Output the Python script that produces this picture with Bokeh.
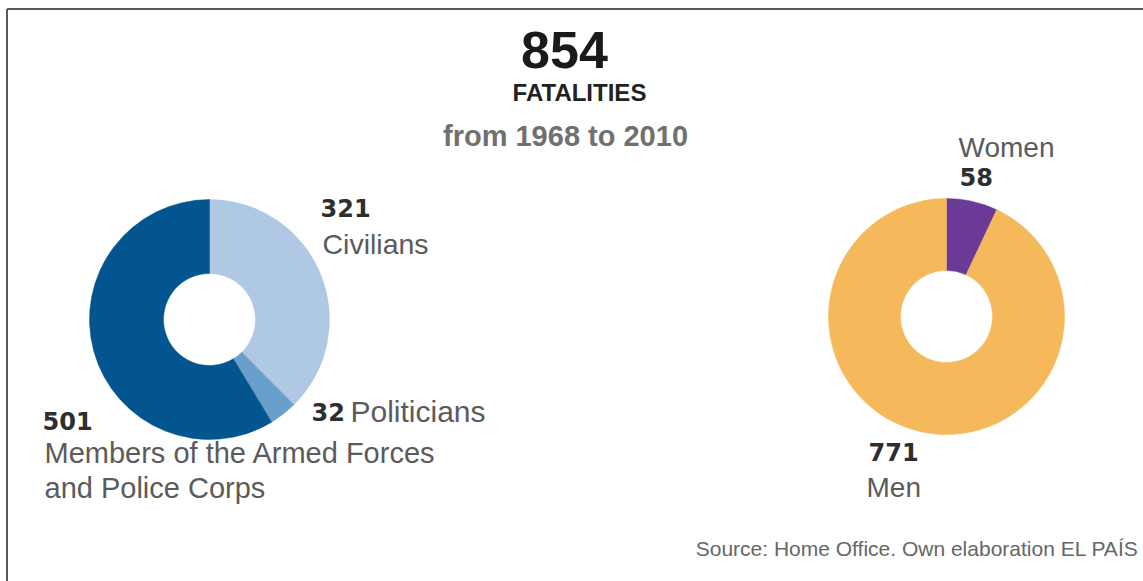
import math
from bokeh.plotting import figure
from bokeh.models import Range1d, ColumnDataSource
from bokeh.embed import file_html
from bokeh.resources import INLINE
from bokeh.core.properties import value

# ---------------- data ----------------
total_fatalities = 854
title_text = "FATALITIES"
period_text = "from 1968 to 2010"
group_labels = ["Civilians", "Politicians", "Members of the Armed Forces\nand Police Corps"]
group_values = [321, 32, 501]
group_colors = ["#afc8e3", "#6a9ecb", "#03558f"]
sex_labels = ["Women", "Men"]
sex_values = [58, 771]
sex_colors = ["#6b3a96", "#f5b85a"]
source_text = "Source: Home Office. Own elaboration EL PAÍS"

# ---------------- layout ----------------
W, H = 1143, 581
LABEL_GRAY = "#5b5b5b"
NUM_DARK = "#2e2e2e"
NUM_SIZE = 24
TEXT_DY = -10

p = figure(width=W, height=H, x_range=Range1d(0, W), y_range=Range1d(0, H),
           output_backend="svg", toolbar_location=None, min_border=0)
p.axis.visible = False
p.grid.visible = False
p.outline_line_color = None
p.background_fill_color = "white"
p.border_fill_color = "white"


def Y(py):
    return H - py


def donut(cx, cy, r_in, r_out, vals, colors):
    tot = sum(vals)
    cum = 0
    starts, ends = [], []
    for v in vals:
        ends.append(math.pi / 2 - 2 * math.pi * cum / tot)
        cum += v
        starts.append(math.pi / 2 - 2 * math.pi * cum / tot)
    src = ColumnDataSource(dict(start=starts, end=ends, color=colors, value=vals))
    p.annular_wedge(x=cx, y=Y(cy), inner_radius=r_in, outer_radius=r_out,
                    start_angle="start", end_angle="end", fill_color="color",
                    line_color="color", line_width=0.5, source=src)


def txt(x, y, s, size, color, bold=False, font="Liberation Sans", align="left"):
    p.text(x=[x], y=[Y(y + TEXT_DY)], text=[s], text_font=value(font),
           text_font_size=f"{size}px", text_font_style="bold" if bold else "normal",
           text_color=color, text_align=align, text_baseline="alphabetic")


# frame lines (left and top)
p.segment(x0=[6.5], y0=[Y(8.5)], x1=[6.5], y1=[Y(581)], line_color="#5a5a5a", line_width=2)
p.segment(x0=[6.5], y0=[Y(8.5)], x1=[W], y1=[Y(8.5)], line_color="#5a5a5a", line_width=2)

# title
txt(564, 59, str(total_fatalities), 52, "#1a1a1a", bold=True, align="center")
txt(579, 102, title_text, 24, "#222222", bold=True, align="center")
txt(565, 145, period_text, 29, "#707070", bold=True, align="center")

# donuts
donut(209, 319, 46, 120, group_values, group_colors)
donut(946, 316, 46, 118, sex_values, sex_colors)

# left labels
txt(320, 217, str(group_values[0]), NUM_SIZE, NUM_DARK, bold=True, font="DejaVu Sans")
txt(322, 253, group_labels[0], 28.5, LABEL_GRAY)

txt(311, 421, str(group_values[1]), NUM_SIZE, NUM_DARK, bold=True, font="DejaVu Sans")
txt(350, 421, group_labels[1], 30, LABEL_GRAY)

txt(42, 430, str(group_values[2]), NUM_SIZE, NUM_DARK, bold=True, font="DejaVu Sans")
for i, line in enumerate(group_labels[2].split("\n")):
    txt(44, 462 + 35 * i, line, 29, LABEL_GRAY)

# right labels
txt(958, 157, sex_labels[0], 28, LABEL_GRAY)
txt(959, 186, str(sex_values[0]), NUM_SIZE, NUM_DARK, bold=True, font="DejaVu Sans")
txt(868, 461, str(sex_values[1]), NUM_SIZE, NUM_DARK, bold=True, font="DejaVu Sans")
txt(866, 497, sex_labels[1], 28, LABEL_GRAY)

# source
txt(1138, 558, source_text, 21, "#666666", align="right")

open("out.html", "w").write(file_html(p, INLINE))
